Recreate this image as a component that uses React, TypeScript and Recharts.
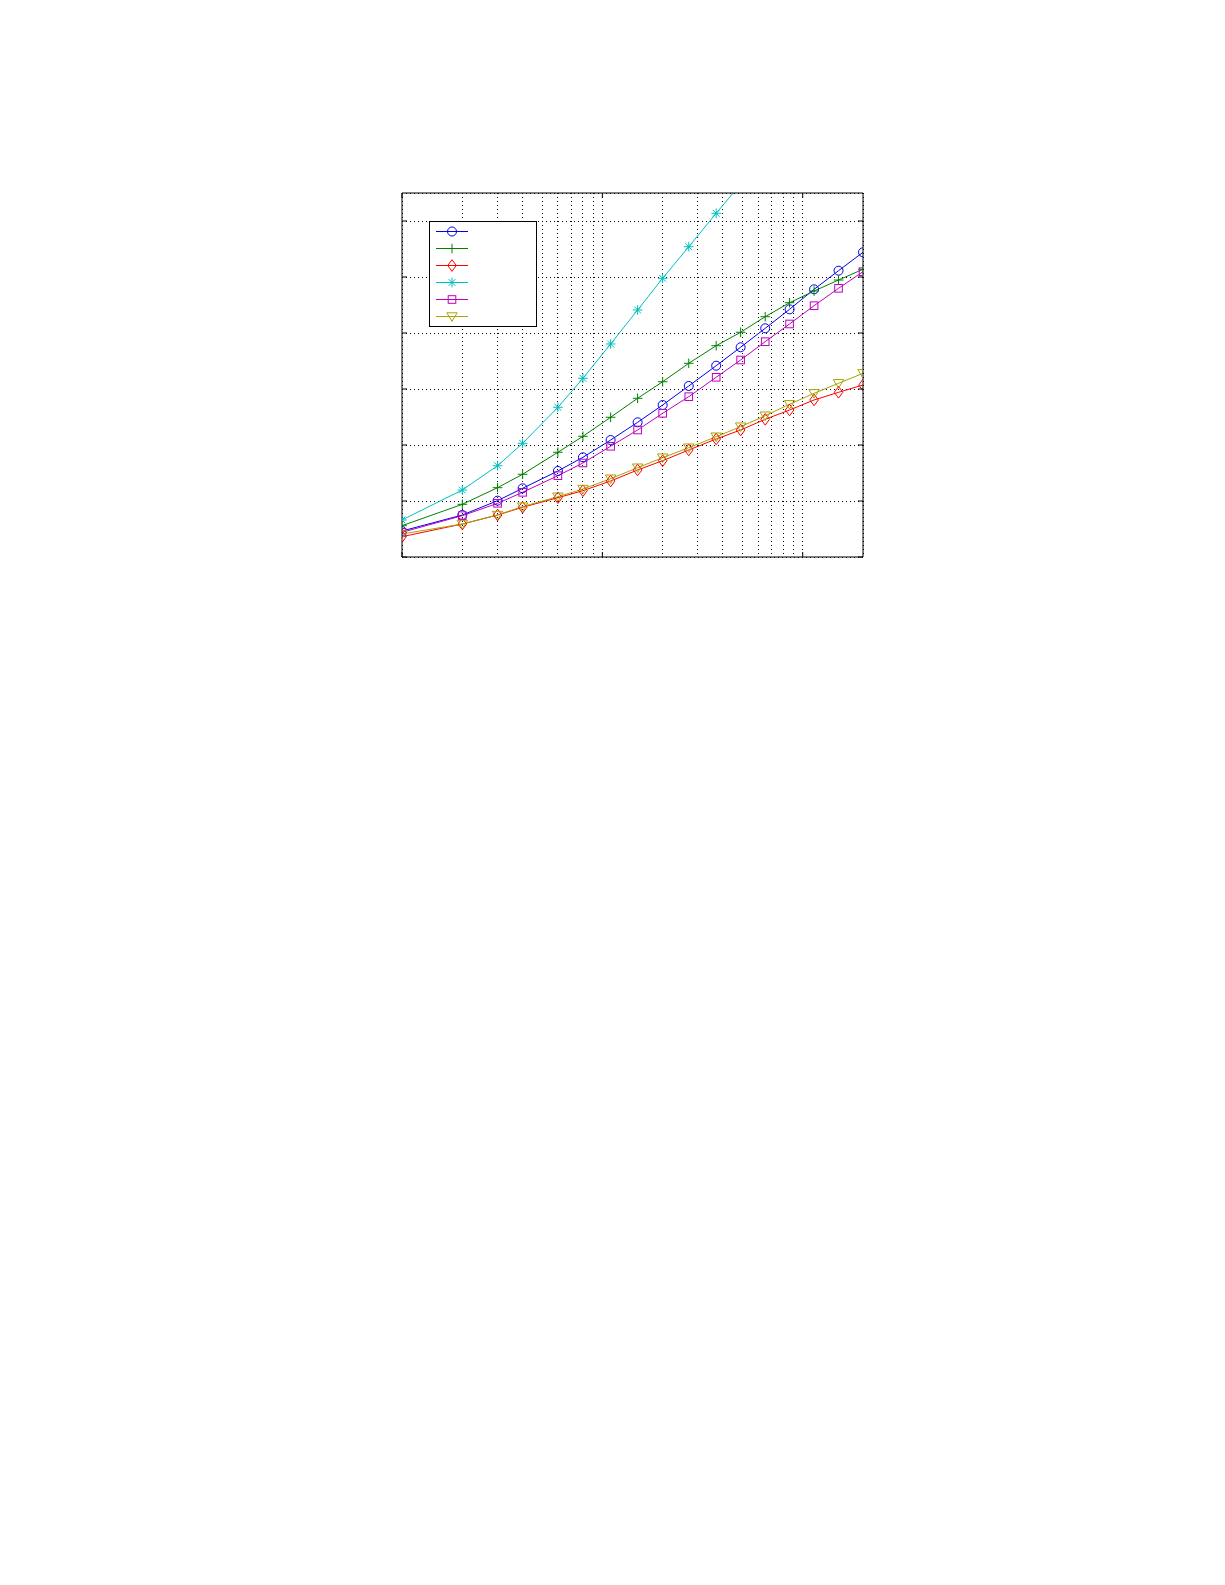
import { LineChart, Line, XAxis, YAxis, CartesianGrid, Legend } from 'recharts'

// x positions (log axis) shared by every series
const xValues = [1, 2, 3, 4, 6, 8, 11, 15, 20, 27, 37, 49, 65, 86, 114, 151, 200]

const blueCircle = [0.464, 0.75, 1.006, 1.227, 1.536, 1.78, 2.089, 2.405, 2.714, 3.054, 3.416, 3.745, 4.084, 4.423, 4.78, 5.113, 5.441]
const greenPlus = [0.559, 0.941, 1.238, 1.477, 1.87, 2.155, 2.495, 2.834, 3.13, 3.459, 3.773, 4.013, 4.291, 4.541, 4.75, 4.946, 5.138]
const redDiamond = [0.363, 0.589, 0.75, 0.888, 1.059, 1.184, 1.357, 1.554, 1.72, 1.911, 2.107, 2.268, 2.459, 2.625, 2.804, 2.941, 3.071]
const cyanStar = [0.661, 1.196, 1.63, 2.03, 2.673, 3.191, 3.804, 4.411, 4.977, 5.541, 6.137, 6.66, null, null, null, null, null]
const magentaSquare = [0.441, 0.738, 0.959, 1.155, 1.452, 1.679, 1.977, 2.268, 2.566, 2.863, 3.209, 3.518, 3.845, 4.161, 4.488, 4.798, 5.095]
const oliveTriangle = [0.411, 0.589, 0.75, 0.9, 1.077, 1.214, 1.398, 1.595, 1.773, 1.952, 2.148, 2.327, 2.523, 2.727, 2.923, 3.102, 3.28]

const gridXTicks = [1, 2, 3, 4, 5, 6, 7, 8, 9, 10, 20, 30, 40, 50, 60, 70, 80, 90, 100]
const majorXTicks = [1, 10, 100]
const yTicks = [0, 1, 2, 3, 4, 5, 6]

type Shape = 'circle' | 'plus' | 'diamond' | 'star' | 'square' | 'triangle'

const SERIES: { key: string; values: (number | null)[]; color: string; shape: Shape }[] = [
  { key: 'blue', values: blueCircle, color: '#0000f0', shape: 'circle' },
  { key: 'green', values: greenPlus, color: '#008000', shape: 'plus' },
  { key: 'red', values: redDiamond, color: '#ff0000', shape: 'diamond' },
  { key: 'cyan', values: cyanStar, color: '#00bfbf', shape: 'star' },
  { key: 'magenta', values: magentaSquare, color: '#bf00bf', shape: 'square' },
  { key: 'olive', values: oliveTriangle, color: '#a8a400', shape: 'triangle' },
]

const data = xValues.map((x, i) => {
  const row: Record<string, number | null> = { x }
  SERIES.forEach((s) => { row[s.key] = s.values[i] })
  return row
})

function Marker({ shape, x, y, color }: { shape: Shape; x: number; y: number; color: string }) {
  const common = { fill: 'none', stroke: color, strokeWidth: 1 }
  switch (shape) {
    case 'circle':
      return <circle cx={x} cy={y} r={4.5} {...common} />
    case 'plus':
      return <path d={`M${x - 4.8},${y}H${x + 4.8}M${x},${y - 4.8}V${y + 4.8}`} {...common} />
    case 'diamond':
      return <path d={`M${x},${y - 5.8}L${x + 4.3},${y}L${x},${y + 5.8}L${x - 4.3},${y}Z`} {...common} />
    case 'star':
      return (
        <path
          d={`M${x - 4.8},${y}H${x + 4.8}M${x},${y - 4.8}V${y + 4.8}M${x - 3.4},${y - 3.4}L${x + 3.4},${y + 3.4}M${x - 3.4},${y + 3.4}L${x + 3.4},${y - 3.4}`}
          {...common}
        />
      )
    case 'square':
      return <rect x={x - 3.8} y={y - 3.8} width={7.6} height={7.6} {...common} />
    default:
      return <path d={`M${x - 5.2},${y - 3.7}L${x + 5.2},${y - 3.7}L${x},${y + 4.8}Z`} {...common} />
  }
}

const makeDot = (shape: Shape, color: string) => (props: any) => {
  const { cx, cy, index } = props
  if (cx == null || cy == null) return <g key={`d-${index}`} />
  return <Marker key={`d-${index}`} shape={shape} x={cx} y={cy} color={color} />
}

// tick marks point into the plot, like the original figure
const BottomTick = ({ x, y, payload }: any) =>
  majorXTicks.includes(payload.value) ? <line x1={x} x2={x} y1={y} y2={y - 5} stroke="#000" /> : <g />
const TopTick = ({ x, y }: any) => <line x1={x} x2={x} y1={y} y2={y + 5} stroke="#000" />
const LeftTick = ({ x, y }: any) => <line x1={x} x2={x + 5} y1={y} y2={y} stroke="#000" />
const RightTick = ({ x, y }: any) => <line x1={x} x2={x - 5} y1={y} y2={y} stroke="#000" />

function LegendBox() {
  return (
    <div style={{ width: 108, height: 106, boxSizing: 'border-box', border: '1px solid #000', background: '#fff' }}>
      <svg width={106} height={104} style={{ display: 'block' }}>
        {SERIES.map((s, i) => {
          const cy = 9.5 + i * 17
          return (
            <g key={s.key}>
              <line x1={6} x2={38} y1={cy} y2={cy} stroke={s.color} strokeWidth={1} />
              <Marker shape={s.shape} x={22} y={cy} color={s.color} />
            </g>
          )
        })}
      </svg>
    </div>
  )
}

export default function App() {
  return (
    <div style={{ position: 'relative', width: 880, height: 600 }}>
      <LineChart width={880} height={600} data={data} margin={{ top: 184, right: 24, bottom: 50, left: 393 }}>
        <CartesianGrid stroke="#000" strokeDasharray="1 3" shapeRendering="crispEdges" horizontal vertical />
        <XAxis
          dataKey="x"
          type="number"
          scale="log"
          domain={[1, 200]}
          ticks={gridXTicks}
          interval={0}
          height={1}
          tickSize={0}
          tickMargin={0}
          tickLine={false}
          tick={<BottomTick />}
          stroke="#000"
          allowDataOverflow
        />
        <XAxis
          xAxisId="top"
          orientation="top"
          dataKey="x"
          type="number"
          scale="log"
          domain={[1, 200]}
          ticks={majorXTicks}
          interval={0}
          height={1}
          tickSize={0}
          tickMargin={0}
          tickLine={false}
          tick={<TopTick />}
          stroke="#000"
          allowDataOverflow
        />
        <YAxis
          type="number"
          domain={[0, 6.5]}
          ticks={yTicks}
          interval={0}
          width={1}
          tickSize={0}
          tickMargin={0}
          tickLine={false}
          tick={<LeftTick />}
          stroke="#000"
          allowDataOverflow
        />
        <YAxis
          yAxisId="right"
          orientation="right"
          type="number"
          domain={[0, 6.5]}
          ticks={yTicks}
          interval={0}
          width={1}
          tickSize={0}
          tickMargin={0}
          tickLine={false}
          tick={<RightTick />}
          stroke="#000"
          allowDataOverflow
        />
        <Legend
          layout="horizontal"
          verticalAlign="middle"
          align="center"
          wrapperStyle={{ left: 421, top: 213, width: 108, height: 106 }}
          content={() => <LegendBox />}
        />
        {SERIES.map((s) => (
          <Line
            key={s.key}
            type="linear"
            dataKey={s.key}
            stroke={s.color}
            strokeWidth={1}
            dot={makeDot(s.shape, s.color)}
            activeDot={false}
            isAnimationActive={false}
          />
        ))}
      </LineChart>
    </div>
  )
}
